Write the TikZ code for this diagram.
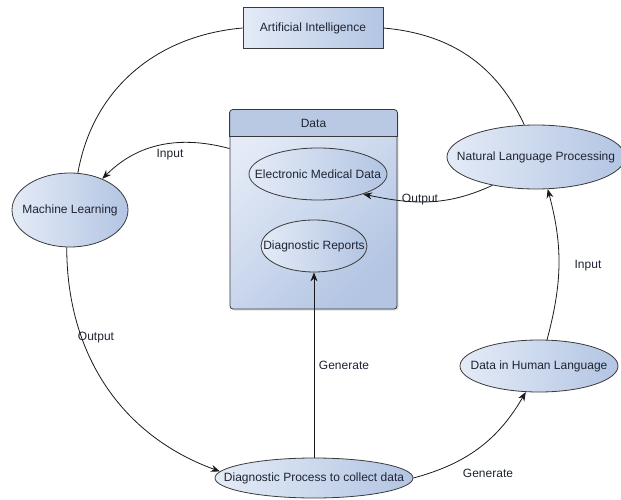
\documentclass[tikz,border=0pt]{standalone}
\usepackage{fontspec}
\setmainfont{Liberation Sans}
\usepackage{tikz}
\usetikzlibrary{arrows.meta,shapes.geometric,shadows}
\definecolor{inkmain}{HTML}{1A1A1A}
\definecolor{textnavy}{HTML}{1F2433}
\definecolor{fillpale}{HTML}{E4EBF7}
\definecolor{filldeep}{HTML}{B3C5E3}
\definecolor{headblue}{HTML}{B9C9E4}
\definecolor{edgegray}{HTML}{3A3A3A}
\tikzset{every node/.append style={font=\fontsize{12}{14}\selectfont,text=textnavy}}
\tikzset{
  blob/.style={ellipse,draw=edgegray,line width=.8pt,left color=fillpale,
    right color=filldeep,inner sep=0pt},
  flow/.style={-{Stealth[length=9pt,width=7pt]},inkmain,line width=.8pt},
  link/.style={inkmain,line width=.8pt},
}

\begin{document}
\begin{tikzpicture}[x=1pt,y=1pt]
  \useasboundingbox (0,0) rectangle (621,499);
  % the data store with its header strip
  \node[draw=edgegray,line width=.8pt,rounded corners=3pt,minimum width=167pt,
    minimum height=199pt,left color=fillpale,right color=filldeep,shading angle=45,
    drop shadow={opacity=.25,shadow xshift=1.5pt,shadow yshift=-1.5pt}]
    (data) at (313.5,289.5) {};
  \filldraw[draw=edgegray,line width=.8pt,fill=headblue]
    ([yshift=-27pt]data.north west) [rounded corners=3pt] -- (data.north west)
    -- (data.north east) [sharp corners] -- ([yshift=-27pt]data.north east) -- cycle;
  \node (datatitle) at ([yshift=-13.5pt]data.north) {Data};
  \node[draw=edgegray,line width=.8pt,left color=fillpale,right color=filldeep,
    minimum width=140pt,minimum height=41pt] (ai) at (313,471) {Artificial Intelligence};
  \node[blob,minimum width=138pt,minimum height=52pt,
    label=center:{Electronic Medical Data}] (emd) at (318,325) {};
  \node[blob,minimum width=106pt,minimum height=52pt,
    label=center:{Diagnostic Reports}] (dr) at (314,253) {};
  \node[blob,minimum width=116pt,minimum height=74pt,
    label=center:{Machine Learning}] (ml) at (70,289) {};
  \node[blob,minimum width=178pt,minimum height=64pt,
    label=center:{Natural Language Processing}] (nlp) at (536,342) {};
  \node[blob,minimum width=158pt,minimum height=52pt,
    label=center:{Data in Human Language}] (dhl) at (539,133) {};
  \node[blob,minimum width=198pt,minimum height=40pt,
    label=center:{Diagnostic Process to collect data}] (dp) at (314,21) {};

  \draw[link] (ai.west) to[out=185,in=80] (ml.78);
  \draw[link] (ai.east) to[out=-5,in=115] (nlp.110);
  \draw[flow] (data.144) to[out=165,in=45] (ml.44);
  \draw[flow] (nlp.213) to[out=205,in=-12] (emd.-24);
  \draw[flow] (ml.265) to[out=-90,in=160] (dp.176);
  \draw[flow] (dp.north) -- (dr.south);
  \draw[flow] (dp.east) to[out=15,in=240] (dhl.243);
  \draw[flow] (dhl.73) to[out=75,in=-75] (nlp.-70);

  \node (inml) at (170,344) {Input};
  \node (outnlp) at (420,299) {Output};
  \node (outml) at (96,161) {Output};
  \node (genrep) at (344,134) {Generate};
  \node (genhum) at (488,26) {Generate};
  \node (innlp) at (588,233) {Input};
\end{tikzpicture}
\end{document}
